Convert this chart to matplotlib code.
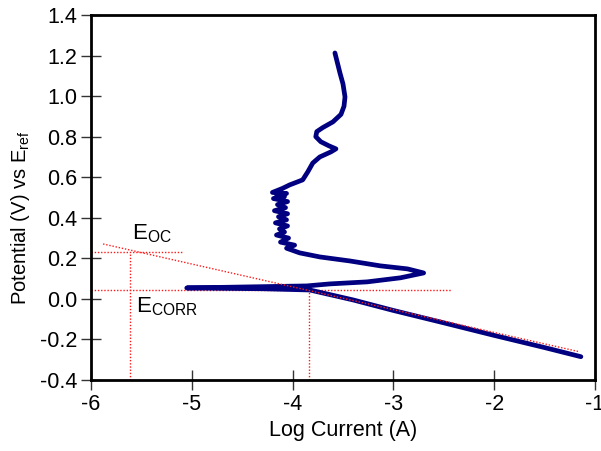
import matplotlib
matplotlib.use("Agg")
import matplotlib.pyplot as plt

plt.rcParams['font.family'] = ['Liberation Sans', 'DejaVu Sans']
plt.rcParams['mathtext.fontset'] = 'custom'
plt.rcParams['mathtext.rm'] = 'Liberation Sans'
plt.rcParams['mathtext.it'] = 'Liberation Sans'

# Polarization scan (log current, potential)
log_current = [-1.14, -1.5, -2.0, -2.5, -3.0, -3.4, -3.83, -4.3, -5.05,
               -4.46, -3.86, -3.63, -3.26, -2.93, -2.70, -2.86, -3.13, -3.43,
               -3.73, -3.93, -4.06, -3.98, -4.12, -4.04, -4.16, -4.08, -4.13,
               -4.05, -4.17, -4.06, -4.14, -4.05, -4.18, -4.07, -4.15, -4.05,
               -4.19, -4.08, -4.16, -4.06, -4.20, -4.10, -4.03, -3.90, -3.85,
               -3.80, -3.73, -3.62, -3.57, -3.64, -3.72, -3.77, -3.76, -3.70,
               -3.60, -3.52, -3.49, -3.48, -3.50, -3.53, -3.58]
potential = [-0.285, -0.24, -0.18, -0.118, -0.057, -0.005, 0.044, 0.050, 0.054,
             0.059, 0.064, 0.074, 0.084, 0.104, 0.128, 0.148, 0.163, 0.187,
             0.207, 0.227, 0.25, 0.265, 0.28, 0.30, 0.315, 0.33, 0.345,
             0.36, 0.375, 0.39, 0.405, 0.42, 0.435, 0.45, 0.465, 0.48,
             0.495, 0.505, 0.515, 0.52, 0.525, 0.545, 0.562, 0.587, 0.626,
             0.67, 0.70, 0.725, 0.74, 0.755, 0.775, 0.80, 0.825, 0.845,
             0.873, 0.91, 0.95, 0.996, 1.06, 1.114, 1.213]

# Tafel extrapolation line
tafel_x = [-5.88, -1.16]
tafel_y = [0.271, -0.26]

e_oc = 0.233
e_oc_x = -5.61
e_corr = 0.044
i_corr_x = -3.84
eoc_line_end = -5.09
ecorr_line_end = -2.43

xticks = [-6, -5, -4, -3, -2, -1]
yticks = [-0.4, -0.2, 0.0, 0.2, 0.4, 0.6, 0.8, 1.0, 1.2, 1.4]

fig = plt.figure(figsize=(6.01, 4.51), dpi=100)
ax = fig.add_axes([0.1514, 0.1574, 0.8386, 0.8093])

red_kw = dict(color='#ff1a1a', linestyle=(0, (1, 1.3)), linewidth=1.0)
ax.plot([-6, eoc_line_end], [e_oc, e_oc], **red_kw)
ax.plot([e_oc_x, e_oc_x], [-0.4, e_oc], **red_kw)
ax.plot([-6, ecorr_line_end], [e_corr, e_corr], **red_kw)
ax.plot([i_corr_x, i_corr_x], [-0.4, e_corr], **red_kw)

ax.plot(log_current, potential, color='#000080', linewidth=3.4,
        solid_joinstyle='round', solid_capstyle='round')
ax.plot(tafel_x, tafel_y, **red_kw)

ax.text(-5.59, 0.291, r'$\mathregular{E_{OC}}$', fontsize=16, ha='left', va='baseline')
ax.text(-5.55, -0.069, r'$\mathregular{E_{CORR}}$', fontsize=16, ha='left', va='baseline')

ax.set_xlim(-6, -1)
ax.set_ylim(-0.4, 1.4)
ax.set_xticks(xticks)
ax.set_xticklabels([f'{t:d}' for t in xticks])
ax.set_yticks(yticks)
ax.set_yticklabels([f'{t:.1f}' for t in yticks])
ax.tick_params(direction='inout', length=14, width=1, color='#333333',
               labelsize=15.5, pad=3)
for s in ax.spines.values():
    s.set_linewidth(2)
    s.set_color('black')

ax.set_xlabel('Log Current (A)', fontsize=15.5, labelpad=4)
ax.set_ylabel(r'Potential (V) vs $\mathregular{E_{ref}}$', fontsize=14.5)
ax.yaxis.set_label_coords(-0.118, 0.444)

fig.savefig('out.png', dpi=100)
